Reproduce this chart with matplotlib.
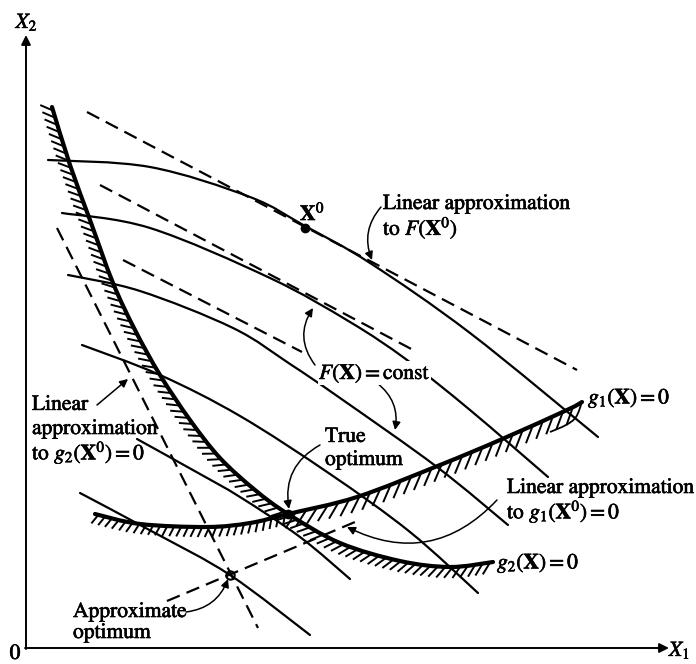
import numpy as np
import matplotlib
matplotlib.use('Agg')
import matplotlib.pyplot as plt
import matplotlib.patheffects as pe
from matplotlib.path import Path
from matplotlib.patches import PathPatch, FancyArrowPatch
from matplotlib.collections import LineCollection

plt.rcParams['font.family'] = 'STIXGeneral'
plt.rcParams['mathtext.fontset'] = 'stix'

# points (pixel coords, y grows downward)
contour_1 = [(48, 160), (150, 167), (250, 197), (305, 226), (370, 263), (470, 333), (598, 437)]
contour_2 = [(62, 213), (150, 228), (270, 278), (350, 322), (407, 360), (470, 410), (548, 477)]
contour_3 = [(68, 275), (140, 291), (233, 328), (290, 364), (340, 398), (437, 467), (508, 525)]
contour_4 = [(82, 345), (160, 375), (240, 416), (330, 474), (410, 532), (478, 593)]
contour_5 = [(137, 439), (200, 474), (240, 497), (300, 537), (350, 579)]
contour_6 = [(80, 493), (155, 533), (230, 575), (310, 635)]
contours = [contour_1, contour_2, contour_3, contour_4, contour_5, contour_6]

g1_curve = [(95, 514), (140, 524), (207, 527), (250, 523), (288, 514), (357, 497), (440, 465), (500, 440), (567, 410), (582, 402)]
g1_tip = [(582, 402), (576, 417), (566, 425), (550, 432)]
g2_curve = [(52, 107), (70, 165), (90, 220), (113, 283), (135, 330), (160, 375), (190, 420), (220, 458),
            (255, 490), (288, 514), (340, 543), (400, 561), (450, 567), (493, 562)]

dash_F = [((87, 112), (577, 370)), ((100, 185), (417, 352)), ((123, 260), (302, 352))]
dash_g1 = ((167, 601), (355, 522))
dash_g2 = ((57, 228), (258, 628))

x0_point = (305, 228)
true_opt = (288, 514)
approx_opt = (230, 575)


def smooth(pts):
    p = np.asarray(pts, float)
    q = np.vstack([p[0], p, p[-1]])
    verts, codes = [p[0]], [Path.MOVETO]
    for i in range(1, len(q) - 2):
        c1 = q[i] + (q[i + 1] - q[i - 1]) / 6
        c2 = q[i + 1] - (q[i + 2] - q[i]) / 6
        verts += [c1, c2, q[i + 1]]
        codes += [Path.CURVE4] * 3
    return Path(verts, codes)


def hatch(path, spacing, length, angle, xmin=-1e9, xmax=1e9):
    xy = path.to_polygons(closed_only=False)[0]
    s = np.concatenate([[0], np.cumsum(np.hypot(*np.diff(xy, axis=0).T))])
    ss = np.arange(spacing / 2, s[-1], spacing)
    x, y = np.interp(ss, s, xy[:, 0]), np.interp(ss, s, xy[:, 1])
    tx = np.interp(ss + 1, s, xy[:, 0]) - np.interp(ss - 1, s, xy[:, 0])
    ty = np.interp(ss + 1, s, xy[:, 1]) - np.interp(ss - 1, s, xy[:, 1])
    n = np.hypot(tx, ty)
    tx, ty = tx / n, ty / n
    a = np.radians(angle)
    hx = np.cos(a) * tx - np.sin(a) * ty
    hy = np.sin(a) * tx + np.cos(a) * ty
    keep = (x >= xmin) & (x <= xmax)
    return [[(x[i], y[i]), (x[i] + length * hx[i], y[i] + length * hy[i])] for i in np.where(keep)[0]]


fig = plt.figure(figsize=(6.96, 6.64), dpi=100)
ax = fig.add_axes([0, 0, 1, 1])
ax.set_xlim(0, 696)
ax.set_ylim(664, 0)
ax.axis('off')

# axes
ax.annotate('', xy=(26, 35), xytext=(26, 649),
            arrowprops=dict(arrowstyle='-|>', lw=1.4, color='k', mutation_scale=14, shrinkA=0, shrinkB=0))
ax.annotate('', xy=(669, 648), xytext=(25, 648),
            arrowprops=dict(arrowstyle='-|>', lw=1.4, color='k', mutation_scale=14, shrinkA=0, shrinkB=0))

# objective contours
for c in contours:
    ax.add_patch(PathPatch(smooth(c), fill=False, ec='k', lw=1.6, capstyle='round'))

# linear approximations
dash = (0, (6.2, 3.3))
for (p, q) in dash_F + [dash_g1, dash_g2]:
    ax.plot([p[0], q[0]], [p[1], q[1]], color='k', lw=1.6, linestyle=dash)

# constraints with hatching
g1_path = smooth(g1_curve)
g2_path = smooth(g2_curve)
marks = hatch(g2_path, 7.5, 14, 130)
marks += hatch(g1_path, 7, 11, 115, xmax=290)
marks += hatch(g1_path, 11, 19, 135, xmin=290, xmax=575)
ax.add_collection(LineCollection(marks, colors='k', linewidths=1.4))
ax.add_patch(PathPatch(g2_path, fill=False, ec='k', lw=3, capstyle='round'))
ax.add_patch(PathPatch(g1_path, fill=False, ec='k', lw=3, capstyle='round'))
ax.add_patch(PathPatch(smooth(g1_tip), fill=False, ec='k', lw=1.3))

# points
ax.plot(*x0_point, 'o', color='k', ms=6)
ax.plot(*true_opt, 'o', color='k', ms=6)
ax.plot(*approx_opt, 'o', mfc='none', mec='k', mew=1.5, ms=6)

# curved pointers
def pointer(a, b, rad):
    ax.add_patch(FancyArrowPatch(a, b, connectionstyle=f'arc3,rad={rad}', arrowstyle='-|>',
                                 mutation_scale=12, lw=1.1, color='k', shrinkA=0, shrinkB=0))

pointer((381, 207), (372, 260), 0.3)
pointer((315, 365), (313, 308), -0.35)
pointer((377, 383), (395, 430), -0.3)
pointer((320, 445), (289, 509), 0.35)
pointer((497, 500), (347, 527), -0.37)
pointer((186, 612), (228, 579), 0.3)
pointer((97, 405), (128, 379), 0)

# labels
fs = 15.5
bold = [pe.withStroke(linewidth=0.45, foreground='k')]
labels = [
    (27, 22, '$X_2$', 'center'),
    (669, 650, '$X_1$', 'left'),
    (15, 654, '0', 'center'),
    (300, 214, r'$\mathbf{X}^0$', 'left'),
    (383, 204, 'Linear approximation', 'left'),
    (383, 228, r'to $F(\mathbf{X}^0)$', 'left'),
    (325, 437, 'True', 'left'),
    (325, 460, 'optimum', 'left'),
    (588, 398, r'$g_1(\mathbf{X})=0$', 'left'),
    (507, 488, 'Linear approximation', 'left'),
    (507, 512, r'to $g_1(\mathbf{X}^0)=0$', 'left'),
    (497, 563, r'$g_2(\mathbf{X})=0$', 'left'),
    (32, 405, 'Linear', 'left'),
    (32, 429, 'approximation', 'left'),
    (32, 453, r'to $g_2(\mathbf{X}^0)=0$', 'left'),
    (73, 612, 'Approximate', 'left'),
    (73, 633, 'optimum', 'left'),
]
for x, y, s, ha in labels:
    ax.text(x, y, s, fontsize=fs, ha=ha, va='center', path_effects=bold)
ax.text(319, 373, r'$F(\mathbf{X})=\mathrm{const}$', fontsize=fs, ha='left', va='center',
        path_effects=bold, bbox=dict(fc='white', ec='none', pad=0.5))

fig.savefig('out.png', dpi=100)
